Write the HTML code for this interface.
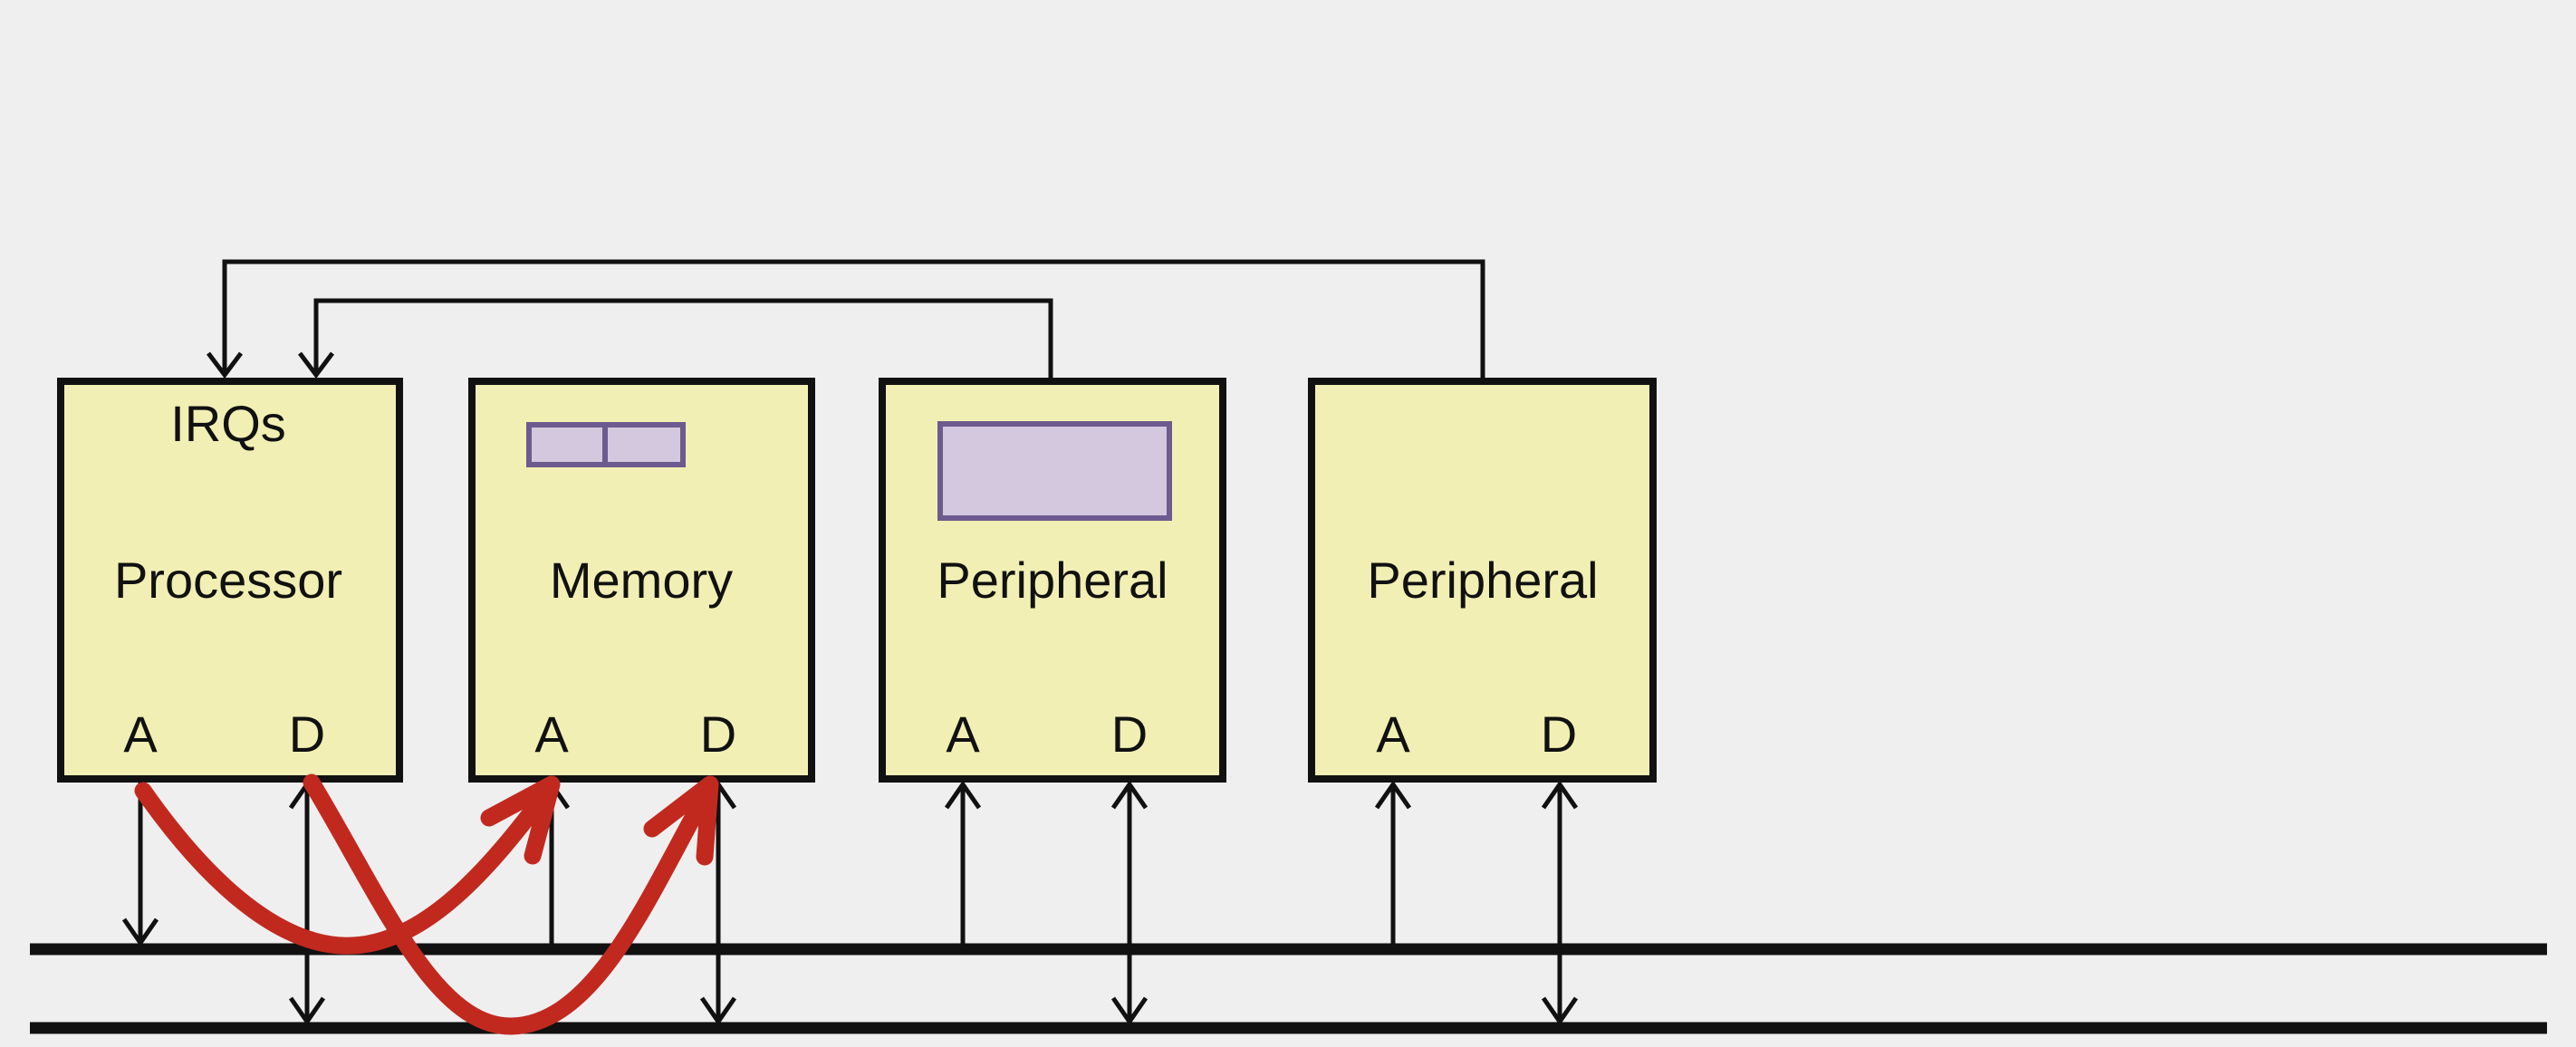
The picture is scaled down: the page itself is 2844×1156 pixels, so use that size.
<!DOCTYPE html>
<html><head><meta charset="utf-8"><style>
html,body{margin:0;padding:0;background:#efefef;}
svg{display:block;}
text{font-family:"Liberation Sans",sans-serif;fill:#111;}
</style></head><body>
<svg width="2844" height="1156" viewBox="0 0 2844 1156" xmlns="http://www.w3.org/2000/svg">
<rect width="2844" height="1156" fill="#efefef"/>
<g fill="none" stroke="#111" stroke-width="5">
  <polyline points="1637,420 1637,289 248,289 248,412"/>
  <polyline points="1160,420 1160,332 349,332 349,412"/>
  <polyline points="230,390 248,414 266,390"/>
  <polyline points="331,390 349,414 367,390"/>
</g>
<g fill="#f2efb4" stroke="#111" stroke-width="8">
  <rect x="67" y="421" width="374" height="439"/>
  <rect x="521" y="421" width="375" height="439"/>
  <rect x="974" y="421" width="376" height="439"/>
  <rect x="1448" y="421" width="377" height="439"/>
</g>
<g fill="#d3c8de" stroke="#6d5a8e" stroke-width="6">
  <rect x="584" y="469" width="170" height="44"/>
  <line x1="668" y1="469" x2="668" y2="513"/>
  <rect x="1038" y="468" width="253" height="104"/>
</g>
<g font-size="56" text-anchor="middle">
  <text x="252" y="487">IRQs</text>
  <text x="252" y="660">Processor</text>
  <text x="708" y="660">Memory</text>
  <text x="1162" y="660">Peripheral</text>
  <text x="1637" y="660">Peripheral</text>
  <text x="155" y="830">A</text><text x="339" y="830">D</text>
  <text x="609" y="830">A</text><text x="793" y="830">D</text>
  <text x="1063" y="830">A</text><text x="1247" y="830">D</text>
  <text x="1538" y="830">A</text><text x="1721" y="830">D</text>
</g>
<g stroke="#111" stroke-width="13">
  <line x1="33" y1="1048" x2="2812" y2="1048"/>
  <line x1="33" y1="1135" x2="2812" y2="1135"/>
</g>
<g fill="none" stroke="#111" stroke-width="5">
  <line x1="155" y1="863" x2="155" y2="1042"/>
  <polyline points="137,1015 155,1041 173,1015"/>
  <line x1="339" y1="866" x2="339" y2="1128"/>
  <polyline points="321,892 339,866 357,892"/>
  <polyline points="321,1102 339,1128 357,1102"/>
  <g id="m">
  <line x1="609" y1="866" x2="609" y2="1042"/>
  <polyline points="591,892 609,866 627,892"/>
  <line x1="793" y1="866" x2="793" y2="1128"/>
  <polyline points="775,892 793,866 811,892"/>
  <polyline points="775,1102 793,1128 811,1102"/>
  </g>
  <use href="#m" x="454"/>
  <use href="#m" x="929"/>
</g>
<g fill="none" stroke="#c1291f" stroke-width="19" stroke-linecap="round" stroke-linejoin="round">
  <path d="M158,873 C240,990 320,1048 390,1044 C470,1040 540,960 604,874"/>
  <polyline points="540,903 609,866 588,945"/>
  <path d="M344,864 C420,990 480,1135 565,1133 C660,1131 720,980 781,874"/>
  <polyline points="720,915 784,866 778,946"/>
</g>
</svg>
</body></html>
